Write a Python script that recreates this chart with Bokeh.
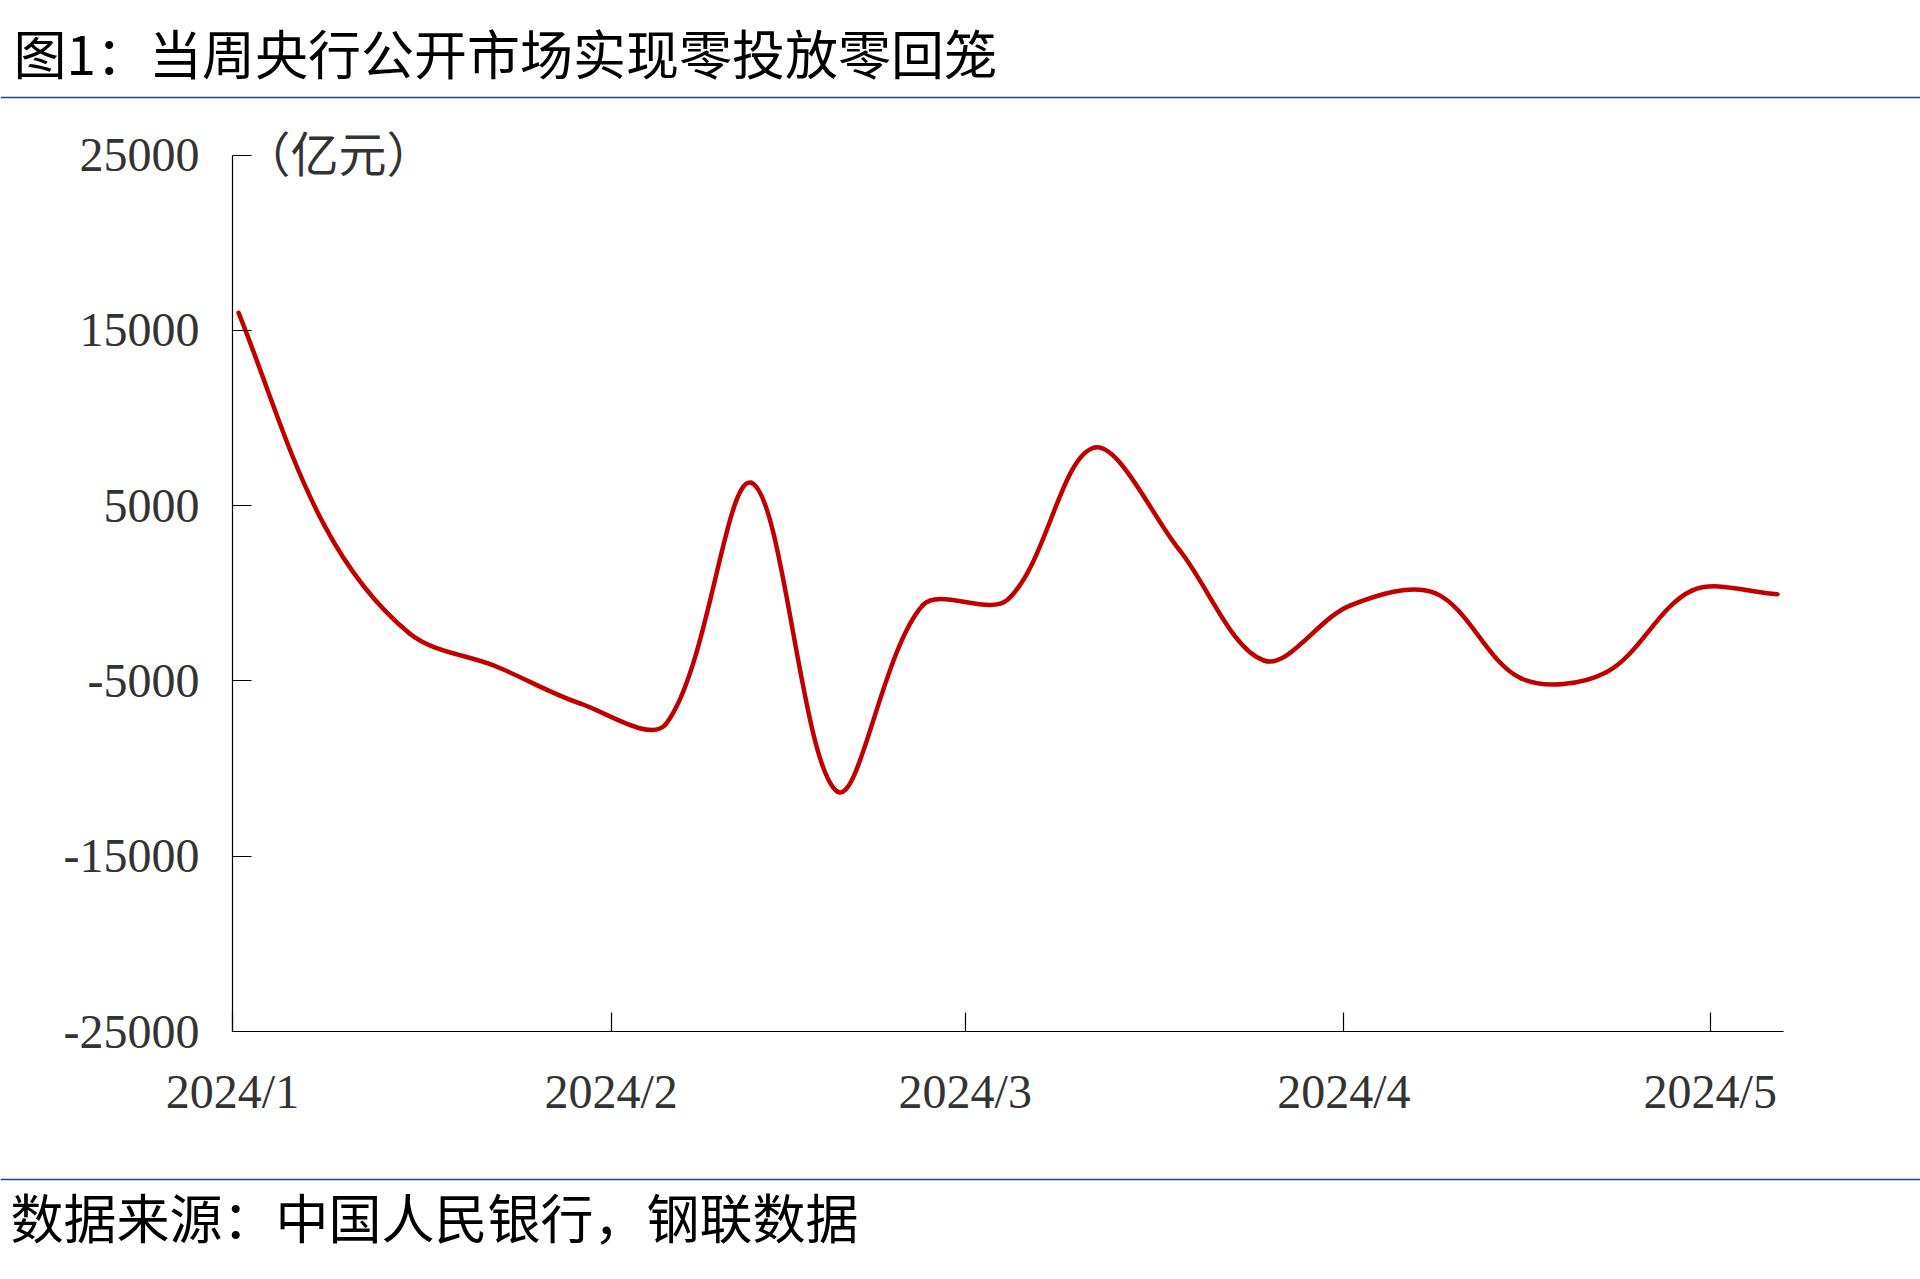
import numpy as np
import pandas as pd
from bokeh.plotting import figure
from bokeh.layouts import column
from bokeh.models import Range1d, FixedTicker, Label, Span
from bokeh.embed import file_html
from bokeh.resources import INLINE

# ---------------- data ----------------
week_dates = ["2024-01-01", "2024-01-08", "2024-01-15", "2024-01-22", "2024-01-29",
              "2024-02-05", "2024-02-12", "2024-02-19", "2024-02-26", "2024-03-04",
              "2024-03-11", "2024-03-18", "2024-03-25", "2024-04-01", "2024-04-08",
              "2024-04-15", "2024-04-22", "2024-04-29", "2024-05-06"]
net_injection = [16000, 3900, -2300, -4150, -6300,
                 -7450, 6300, -11300, -700, -350,
                 8300, 2500, -3850, -700, 0,
                 -4850, -4500, 150, -50]
month_starts = ["2024-01-01", "2024-02-01", "2024-03-01", "2024-04-01", "2024-05-01"]
month_labels = ["2024/1", "2024/2", "2024/3", "2024/4", "2024/5"]
y_ticks = [-25000, -15000, -5000, 5000, 15000, 25000]
title_text = "图1：当周央行公开市场实现零投放零回笼"
unit_text = "（亿元）"
source_text = "数据来源：中国人民银行，钢联数据"

# ---------------- geometry ----------------
W = 1920
H_TOP, H_MAIN, H_BOT = 104, 1064, 111
X_END = 127
Y_MIN, Y_MAX = -25000, 25000      # axis extent
Y_VIEW_TOP = 26800                # headroom so the unit label is not clipped
BL, BR, BT, BB = 232, 137, 19, 137
FW, FH = W - BL - BR, H_MAIN - BT - BB

origin = pd.Timestamp("2024-01-01")
xs = np.asarray((pd.to_datetime(week_dates) - origin).days, dtype=float) + 0.5  # Excel date-axis centring
ys = np.asarray(net_injection, dtype=float)
tick_days = [int(d) for d in (pd.to_datetime(month_starts) - origin).days]

# Excel-style smoothed line: bezier segments through the data points,
# control lengths weighted by neighbouring segment lengths in screen space
PXD = FW / X_END
PYU = FH / (Y_VIEW_TOP - Y_MIN)
P = np.column_stack([xs * PXD, ys * PYU])
n = len(P)
L = np.hypot(*(P[1:] - P[:-1]).T)


def tangent(i):
    a = P[max(i - 1, 0)]
    b = P[min(i + 1, n - 1)]
    return b - a


def seg_len(i):
    return L[i] if 0 <= i < n - 1 else 0.0


T = 1.0 / 3.0
x0, y0, x1, y1, cx0, cy0, cx1, cy1 = ([] for _ in range(8))
for i in range(n - 1):
    c_a = P[i] + tangent(i) * seg_len(i) / (seg_len(i - 1) + seg_len(i)) * T
    c_b = P[i + 1] - tangent(i + 1) * seg_len(i) / (seg_len(i) + seg_len(i + 1)) * T
    x0.append(xs[i]); y0.append(ys[i])
    x1.append(xs[i + 1]); y1.append(ys[i + 1])
    cx0.append(c_a[0] / PXD); cy0.append(c_a[1] / PYU)
    cx1.append(c_b[0] / PXD); cy1.append(c_b[1] / PYU)


def deco_fig(h):
    f = figure(width=W, height=h, output_backend="svg", toolbar_location=None,
               x_range=Range1d(0, W), y_range=Range1d(h, 0), min_border=0,
               x_axis_location=None, y_axis_location=None, frame_align=False)
    f.grid.visible = False
    f.outline_line_color = None
    f.background_fill_color = "white"
    f.border_fill_color = "white"
    return f


# ---------------- title band ----------------
top = deco_fig(H_TOP)
top.add_layout(Label(x=13, y=51, text=title_text, text_font="Noto Sans CJK SC",
                     text_font_size="53px", text_color="black", text_baseline="middle"))
top.add_layout(Span(location=97, dimension="width", line_color="#17438F", line_width=1.5))

# ---------------- main chart ----------------
p = figure(width=W, height=H_MAIN, output_backend="svg", toolbar_location=None,
           x_range=Range1d(0, X_END), y_range=Range1d(Y_MIN, Y_VIEW_TOP), frame_align=False,
           min_border_left=BL, min_border_right=BR, min_border_top=BT, min_border_bottom=BB)
p.outline_line_color = None
p.grid.visible = False
p.background_fill_color = "white"
p.border_fill_color = "white"

p.bezier(x0=x0, y0=y0, x1=x1, y1=y1, cx0=cx0, cy0=cy0, cx1=cx1, cy1=cy1,
         line_color="#C00000", line_width=4.5, line_cap="round")

for ax in (p.xaxis[0], p.yaxis[0]):
    ax.axis_line_color = "black"
    ax.axis_line_width = 1.2
    ax.major_tick_line_color = "black"
    ax.major_tick_line_width = 1.2
    ax.major_tick_in = 19
    ax.major_tick_out = 0
    ax.minor_tick_in = 0
    ax.minor_tick_out = 0
    ax.major_label_text_font = "Liberation Serif"
    ax.major_label_text_font_size = "48px"
    ax.major_label_text_color = "#333333"
    ax.major_label_standoff = 33

p.xaxis.ticker = FixedTicker(ticks=tick_days)
p.xaxis.major_label_overrides = {d: lab for d, lab in zip(tick_days, month_labels)}
p.yaxis.ticker = FixedTicker(ticks=y_ticks)
p.yaxis.major_label_overrides = {v: str(v) for v in y_ticks}
p.yaxis.bounds = (Y_MIN, Y_MAX)

# unit label: visible centre ~6px below the 25000 tick
top_gap = (Y_VIEW_TOP - Y_MAX) * PYU
p.add_layout(Label(x=10, y=FH - top_gap + 4, x_units="screen", y_units="screen", text=unit_text,
                   text_font="Noto Sans CJK SC", text_font_size="48px",
                   text_color="#333333", text_baseline="middle"))

# ---------------- source band ----------------
bot = deco_fig(H_BOT)
bot.add_layout(Span(location=11, dimension="width", line_color="#17438F", line_width=1.5))
bot.add_layout(Label(x=10, y=47, text=source_text, text_font="Noto Sans CJK SC",
                     text_font_size="53px", text_color="black", text_baseline="middle"))

layout = column(top, p, bot, spacing=0)

with open("out.html", "w", encoding="utf-8") as f:
    f.write(file_html(layout, INLINE, title="图1"))
